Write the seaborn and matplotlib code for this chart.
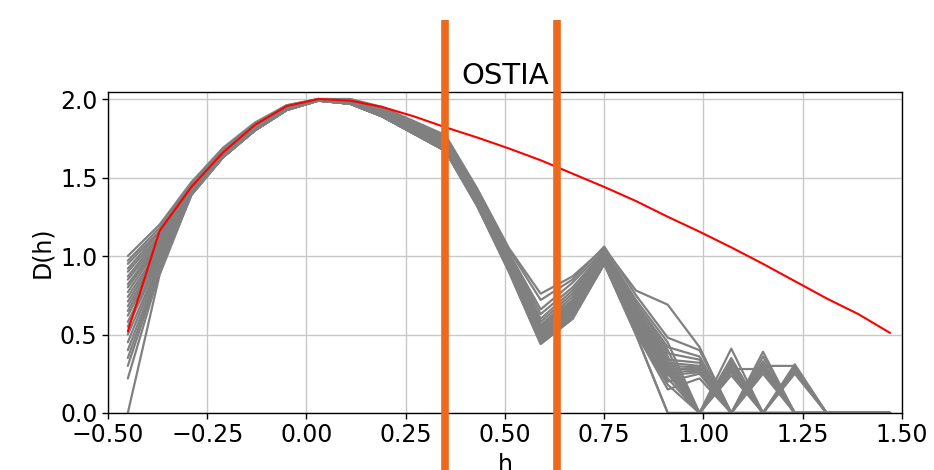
import matplotlib
matplotlib.use('Agg')
import matplotlib.pyplot as plt
import seaborn as sns
import pandas as pd

# h grid shared by every spectrum
h_grid = [-0.45, -0.37, -0.29, -0.21, -0.13, -0.05, 0.03, 0.11, 0.19, 0.27, 0.35, 0.43, 0.51,
          0.59, 0.67, 0.75, 0.83, 0.91, 0.99, 1.07, 1.15, 1.23, 1.31, 1.39, 1.47]

# reference spectrum (red)
d_ref = [0.52, 1.16, 1.44, 1.66, 1.835, 1.955, 2.00, 1.99, 1.95, 1.89, 1.82, 1.755, 1.685,
         1.61, 1.525, 1.44, 1.35, 1.25, 1.155, 1.055, 0.95, 0.84, 0.73, 0.63, 0.51]

# ensemble spectra (grey)
run01 = [1.00, 1.20, 1.47, 1.69, 1.85, 1.96, 2.00, 2.00, 1.95, 1.86, 1.77, 1.43, 1.05, 0.76, 0.87, 1.05, 0.78, 0.69, 0.42, 0.00, 0.30, 0.30, 0.00, 0.00, 0.00]
run02 = [0.97, 1.18, 1.46, 1.68, 1.84, 1.96, 2.00, 2.00, 1.94, 1.85, 1.76, 1.42, 1.04, 0.72, 0.85, 1.06, 0.75, 0.48, 0.40, 0.00, 0.39, 0.00, 0.00, 0.00, 0.00]
run03 = [0.95, 1.16, 1.46, 1.68, 1.84, 1.95, 2.00, 1.99, 1.94, 1.85, 1.75, 1.41, 1.02, 0.66, 0.83, 1.04, 0.72, 0.45, 0.00, 0.41, 0.00, 0.31, 0.00, 0.00, 0.00]
run04 = [0.92, 1.15, 1.45, 1.67, 1.84, 1.95, 2.00, 1.99, 1.93, 1.84, 1.74, 1.40, 1.01, 0.63, 0.80, 1.03, 0.70, 0.42, 0.36, 0.00, 0.36, 0.00, 0.00, 0.00, 0.00]
run05 = [0.90, 1.13, 1.45, 1.67, 1.83, 1.95, 2.00, 1.99, 1.93, 1.83, 1.73, 1.39, 1.00, 0.60, 0.78, 1.02, 0.68, 0.40, 0.00, 0.35, 0.00, 0.30, 0.00, 0.00, 0.00]
run06 = [0.87, 1.12, 1.44, 1.66, 1.83, 1.95, 2.00, 1.99, 1.92, 1.83, 1.72, 1.38, 0.99, 0.58, 0.76, 1.02, 0.66, 0.38, 0.34, 0.00, 0.33, 0.00, 0.00, 0.00, 0.00]
run07 = [0.85, 1.10, 1.44, 1.66, 1.83, 1.95, 2.00, 1.98, 1.92, 1.82, 1.72, 1.38, 0.98, 0.56, 0.74, 1.01, 0.65, 0.36, 0.00, 0.33, 0.00, 0.29, 0.00, 0.00, 0.00]
run08 = [0.82, 1.09, 1.43, 1.66, 1.82, 1.94, 2.00, 1.98, 1.92, 1.82, 1.71, 1.37, 0.98, 0.55, 0.72, 1.01, 0.64, 0.34, 0.32, 0.00, 0.31, 0.00, 0.00, 0.00, 0.00]
run09 = [0.80, 1.08, 1.43, 1.65, 1.82, 1.94, 2.00, 1.98, 1.91, 1.81, 1.71, 1.37, 0.97, 0.54, 0.71, 1.00, 0.63, 0.33, 0.00, 0.31, 0.00, 0.28, 0.00, 0.00, 0.00]
run10 = [0.77, 1.07, 1.42, 1.65, 1.82, 1.94, 2.00, 1.98, 1.91, 1.81, 1.70, 1.36, 0.97, 0.53, 0.70, 1.00, 0.62, 0.32, 0.30, 0.00, 0.30, 0.00, 0.00, 0.00, 0.00]
run11 = [0.74, 1.05, 1.42, 1.65, 1.82, 1.94, 2.00, 1.98, 1.91, 1.80, 1.70, 1.36, 0.96, 0.52, 0.69, 0.99, 0.61, 0.31, 0.00, 0.30, 0.00, 0.27, 0.00, 0.00, 0.00]
run12 = [0.71, 1.04, 1.42, 1.65, 1.81, 1.94, 1.99, 1.98, 1.91, 1.80, 1.69, 1.35, 0.96, 0.51, 0.68, 0.99, 0.60, 0.30, 0.29, 0.00, 0.29, 0.00, 0.00, 0.00, 0.00]
run13 = [0.68, 1.03, 1.41, 1.64, 1.81, 1.94, 1.99, 1.98, 1.90, 1.80, 1.69, 1.35, 0.95, 0.50, 0.67, 0.99, 0.59, 0.29, 0.00, 0.29, 0.00, 0.26, 0.00, 0.00, 0.00]
run14 = [0.65, 1.02, 1.41, 1.64, 1.81, 1.94, 1.99, 1.97, 1.90, 1.79, 1.69, 1.35, 0.95, 0.50, 0.66, 0.98, 0.58, 0.28, 0.28, 0.00, 0.28, 0.00, 0.00, 0.00, 0.00]
run15 = [0.62, 1.01, 1.41, 1.64, 1.81, 1.93, 1.99, 1.97, 1.90, 1.79, 1.68, 1.34, 0.94, 0.49, 0.65, 0.98, 0.57, 0.27, 0.00, 0.28, 0.28, 0.00, 0.00, 0.00, 0.00]
run16 = [0.58, 0.99, 1.40, 1.64, 1.81, 1.93, 1.99, 1.97, 1.90, 1.79, 1.68, 1.34, 0.94, 0.48, 0.64, 0.98, 0.56, 0.26, 0.27, 0.00, 0.27, 0.00, 0.00, 0.00, 0.00]
run17 = [0.55, 0.98, 1.40, 1.63, 1.80, 1.93, 1.99, 1.97, 1.89, 1.79, 1.68, 1.34, 0.93, 0.48, 0.63, 0.97, 0.55, 0.25, 0.00, 0.27, 0.00, 0.25, 0.00, 0.00, 0.00]
run18 = [0.50, 0.96, 1.40, 1.63, 1.80, 1.93, 1.99, 1.97, 1.89, 1.78, 1.67, 1.33, 0.93, 0.47, 0.62, 0.97, 0.54, 0.24, 0.26, 0.00, 0.00, 0.00, 0.00, 0.00, 0.00]
run19 = [0.45, 0.95, 1.39, 1.63, 1.80, 1.93, 1.99, 1.97, 1.89, 1.78, 1.67, 1.33, 0.92, 0.46, 0.62, 0.96, 0.53, 0.22, 0.00, 0.26, 0.00, 0.00, 0.00, 0.00, 0.00]
run20 = [0.40, 0.93, 1.39, 1.63, 1.80, 1.93, 1.99, 1.97, 1.89, 1.78, 1.67, 1.33, 0.92, 0.46, 0.61, 0.96, 0.52, 0.20, 0.25, 0.00, 0.25, 0.00, 0.00, 0.00, 0.00]
run21 = [0.35, 0.92, 1.39, 1.63, 1.80, 1.93, 1.99, 1.97, 1.89, 1.78, 1.67, 1.32, 0.91, 0.45, 0.61, 0.96, 0.52, 0.18, 0.00, 0.24, 0.00, 0.00, 0.00, 0.00, 0.00]
run22 = [0.30, 0.91, 1.39, 1.63, 1.80, 1.93, 1.99, 1.97, 1.89, 1.78, 1.67, 1.32, 0.91, 0.45, 0.60, 0.95, 0.51, 0.15, 0.22, 0.00, 0.00, 0.00, 0.00, 0.00, 0.00]
run23 = [0.22, 0.90, 1.39, 1.63, 1.80, 1.93, 1.99, 1.97, 1.89, 1.78, 1.67, 1.32, 0.90, 0.44, 0.60, 0.95, 0.50, 0.00, 0.00, 0.00, 0.00, 0.00, 0.00, 0.00, 0.00]
run24 = [0.00, 0.88, 1.39, 1.63, 1.80, 1.93, 1.99, 1.97, 1.89, 1.78, 1.67, 1.32, 0.90, 0.44, 0.60, 0.95, 0.50, 0.00, 0.00, 0.00, 0.00, 0.00, 0.00, 0.00, 0.00]

gray_runs = [run01, run02, run03, run04, run05, run06, run07, run08, run09, run10, run11, run12,
             run13, run14, run15, run16, run17, run18, run19, run20, run21, run22, run23, run24]

# marked h values (orange lines)
h_marks = [0.35, 0.632]

sns.set_style('ticks', {'axes.grid': True, 'grid.color': '#c8c8c8', 'axes.edgecolor': 'black'})
plt.rcParams['font.family'] = ['DejaVu Sans']
plt.rcParams['text.color'] = 'black'
plt.rcParams['axes.labelcolor'] = 'black'
plt.rcParams['xtick.color'] = 'black'
plt.rcParams['ytick.color'] = 'black'

rows = []
for i, run in enumerate(gray_runs):
    for h, d in zip(h_grid, run):
        rows.append({'run': i, 'h': h, 'D': d})
df = pd.DataFrame(rows)

fig = plt.figure(figsize=(9.34, 4.70), dpi=100)
ax = fig.add_axes([0.1156, 0.1213, 0.8501, 0.6830])

sns.lineplot(data=df, x='h', y='D', units='run', estimator=None, color='gray',
             linewidth=1.6, ax=ax, legend=False)
sns.lineplot(x=h_grid, y=d_ref, color='red', linewidth=1.5, ax=ax, zorder=5)

for hm in h_marks:
    ax.axvline(hm, ymin=-0.2, ymax=1.224, color='#ec6a1e', linewidth=5.5,
               solid_capstyle='butt', clip_on=False, zorder=10)

ax.set_xlim(-0.5, 1.5)
ax.set_ylim(0, 2.045)
ax.set_xticks([-0.5, -0.25, 0.0, 0.25, 0.5, 0.75, 1.0, 1.25, 1.5])
ax.set_xticklabels(['\u22120.50', '\u22120.25', '0.00', '0.25', '0.50', '0.75', '1.00', '1.25', '1.50'])
ax.set_yticks([0.0, 0.5, 1.0, 1.5, 2.0])
ax.tick_params(labelsize=17, length=4, width=1, colors='black')
ax.set_xlabel('h', fontsize=17)
ax.set_ylabel('D(h)', fontsize=17)
ax.set_title('OSTIA', fontsize=21, color='black')
ax.grid(True, color='#c8c8c8', linewidth=1)
for s in ax.spines.values():
    s.set_color('black')
    s.set_linewidth(1)

fig.savefig('out.png', dpi=100)
